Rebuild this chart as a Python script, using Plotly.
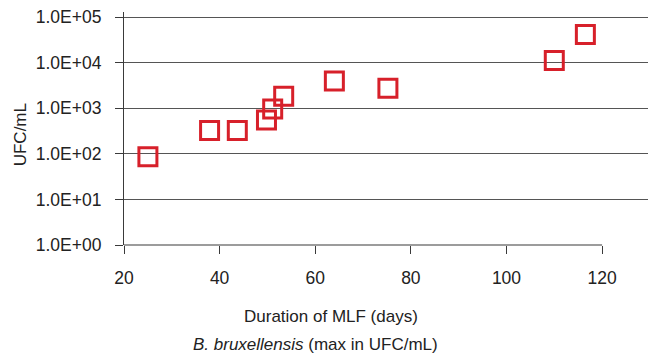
import plotly.graph_objects as go

# Data
duration_days = [25.0, 37.9, 43.7, 49.8, 51.1, 53.4, 64.0, 75.2, 110.0, 116.5]
max_ufc_ml = [86, 326, 326, 554, 955, 1840, 3930, 2740, 11100, 41600]

y_tickvals = [1, 10, 100, 1000, 10000, 100000]
y_ticktext = ["1.0E+00", "1.0E+01", "1.0E+02", "1.0E+03", "1.0E+04", "1.0E+05"]
x_tickvals = [20, 40, 60, 80, 100, 120]

FONT = "Liberation Sans, Arial, Helvetica, sans-serif"
TXT = "#222222"
AX = "#3a3a3a"

fig = go.Figure()
fig.add_trace(go.Scatter(
    x=duration_days, y=max_ufc_ml, mode="markers",
    marker=dict(symbol="square-open", size=18, color="#d7202a",
                line=dict(width=3, color="#d7202a")),
    showlegend=False, cliponaxis=False,
))

fig.update_layout(
    width=670, height=358,
    margin=dict(l=124, r=22, t=7, b=113),
    paper_bgcolor="white", plot_bgcolor="white",
    font=dict(family=FONT, size=17, color=TXT),
    xaxis=dict(
        range=[20, 129.6], tickvals=x_tickvals, ticks="outside", ticklen=8,
        tickcolor=AX, tickwidth=1.2, showgrid=False, zeroline=False,
        showline=False, tickfont=dict(size=17.5, color=TXT),
        ticklabelstandoff=9,
    ),
    yaxis=dict(
        type="log", range=[0, 5.11], tickvals=y_tickvals, ticktext=y_ticktext,
        ticks="outside", ticklen=8, tickcolor=AX, tickwidth=1.2,
        showline=True, linecolor=AX, linewidth=1.2,
        showgrid=True, gridcolor="#555555", gridwidth=1.2, zeroline=False,
        tickfont=dict(size=17.5, color=TXT), ticklabelstandoff=10,
    ),
    shapes=[dict(type="line", xref="x", yref="y domain", x0=20, x1=120,
                 y0=0, y1=0, line=dict(color=AX, width=1.2))],
    annotations=[
        dict(text="UFC/mL", xref="paper", yref="paper", x=-0.1985, y=0.475,
             textangle=-90, showarrow=False, xanchor="center", yanchor="middle",
             font=dict(size=17, color=TXT)),
        dict(text="Duration of MLF (days)", xref="paper", yref="paper",
             x=0.395, y=-0.3067, showarrow=False, xanchor="center",
             yanchor="middle", font=dict(size=17, color=TXT)),
        dict(text="<i>B. bruxellensis</i> (max in UFC/mL)", xref="paper",
             yref="paper", x=0.366, y=-0.425, showarrow=False, xanchor="center",
             yanchor="middle", font=dict(size=17, color=TXT)),
    ],
)

fig.write_html("out.html")
